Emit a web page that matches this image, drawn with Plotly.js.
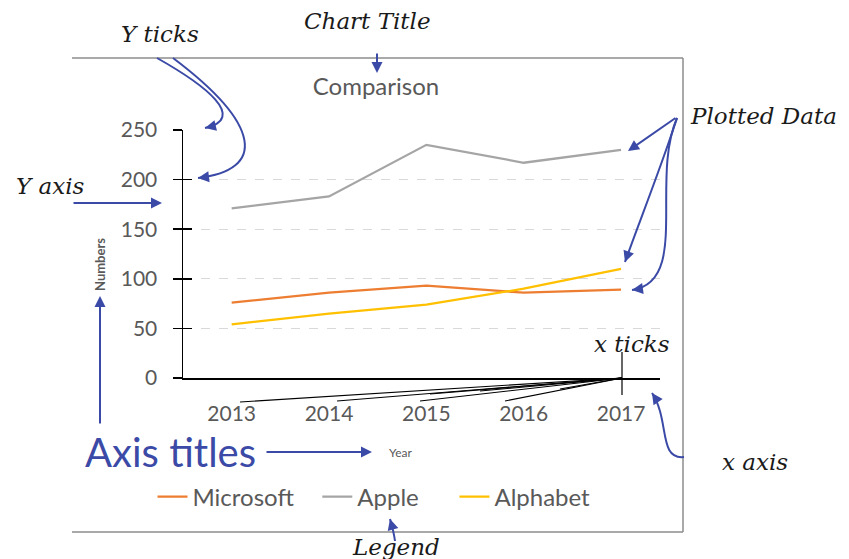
<!DOCTYPE html>
<html>
<head>
<meta charset="utf-8">
<script src="https://cdn.plot.ly/plotly-3.0.1.min.js"></script>
<style>html,body{margin:0;padding:0;background:#fff}#chart{width:849px;height:559px}</style>
</head>
<body>
<div id="chart"></div>
<script>
// ---- data ----
const years = ['2013', '2014', '2015', '2016', '2017'];
const microsoft = [76, 86, 93, 86, 89];
const apple = [171, 183, 235, 217, 230];
const alphabet = [54, 65, 74, 90, 110];
const yTicks = [0, 50, 100, 150, 200, 250];

// ---- page geometry (pixels) ----
const W = 849, H = 559;
const L = 183, R = 660, T = 130, B = 378;
const fx = X => (X - L) / (R - L);
const fy = Y => (B - Y) / (B - T);

const BLUE = '#3b4aa6';
const GREY = '#595959';
const HAND = {family: 'DejaVu Serif, Liberation Serif, serif', size: 23, color: '#1a1a1a'};

const shapes = [];
const annotations = [];

function line(x0, y0, x1, y1, color, width, dash) {
  shapes.push({type: 'line', xref: 'paper', yref: 'paper',
    x0: fx(x0), y0: fy(y0), x1: fx(x1), y1: fy(y1),
    line: {color: color, width: width, dash: dash || 'solid'}});
}
function arrow(tx, ty, hx, hy) {
  annotations.push({xref: 'paper', yref: 'paper', x: fx(hx), y: fy(hy),
    ax: tx - hx, ay: ty - hy, text: '', showarrow: true,
    arrowhead: 2, arrowsize: 1.1, arrowwidth: 2, arrowcolor: BLUE, standoff: 0, startstandoff: 0});
}
function curve(p0, c1, c2, p1) {
  const d = 'M' + fx(p0[0]) + ',' + fy(p0[1]) +
    ' C' + fx(c1[0]) + ',' + fy(c1[1]) + ' ' + fx(c2[0]) + ',' + fy(c2[1]) +
    ' ' + fx(p1[0]) + ',' + fy(p1[1]);
  shapes.push({type: 'path', xref: 'paper', yref: 'paper', path: d,
    line: {color: BLUE, width: 2}});
  const dx = c2[0] - p1[0], dy = c2[1] - p1[1];
  const n = Math.hypot(dx, dy) || 1;
  arrow(p1[0] + dx / n * 9, p1[1] + dy / n * 9, p1[0], p1[1]);
}
function label(x, y, text, font, angle) {
  annotations.push({xref: 'paper', yref: 'paper', x: fx(x), y: fy(y), text: text,
    showarrow: false, font: font, xanchor: 'center', yanchor: 'middle', textangle: angle || 0});
}

// chart frame
line(72, 58, 683, 58, '#8c8c8c', 1.5);
line(683, 58, 683, 532, '#8c8c8c', 1.5);
line(72, 532, 683, 532, '#8c8c8c', 1.5);

// x ticks marker and fan lines
line(622, 352, 622, 395, '#000', 1.2);
[[240, 402], [337, 401], [420, 401], [505, 401], [430, 394], [480, 391], [560, 389]]
  .forEach(p => line(622, 378, p[0], p[1], '#000', 1.1));

// arrows
arrow(377, 52, 377, 73);                                   // chart title
curve([157, 58], [205, 85], [248, 118], [205, 128]);       // y ticks 1
curve([173, 58], [262, 125], [266, 170], [198, 178]);      // y ticks 2
arrow(72, 203, 162, 203);                                  // y axis
arrow(677, 117, 628, 151);                                 // plotted data 1
curve([677, 118], [660, 170], [640, 220], [625, 262]);     // plotted data 2
curve([677, 118], [650, 180], [690, 282], [632, 290]);     // plotted data 3
curve([684, 457], [658, 460], [670, 420], [652, 393]);     // x axis
arrow(100, 425, 100, 296);                                 // numbers
arrow(265, 452, 372, 452);                                 // axis titles
curve([395, 541], [394, 533], [392, 526], [390, 519]);     // legend

// hand-written labels
label(160, 34, '<i>Y ticks</i>', HAND);
label(367, 21, '<i>Chart Title</i>', HAND);
label(763, 116, '<i>Plotted Data</i>', HAND);
label(50, 186, '<i>Y axis</i>', HAND);
label(632, 344, '<i>x ticks</i>', HAND);
label(755, 462, '<i>x axis</i>', HAND);
label(396, 547, '<i>Legend</i>', HAND);
label(170, 452, 'Axis titles', {family: 'Lato, sans-serif', size: 40, color: BLUE});

// axis titles
label(400, 452, 'Year', {family: 'Lato, sans-serif', size: 12, color: GREY});
label(100, 265, '<b>Numbers</b>', {family: 'Lato, sans-serif', size: 13, color: GREY}, -90);

const NB = '\u00a0';
const traces = [
  {name: 'Microsoft' + NB + NB + NB, x: years, y: microsoft, color: '#ED7D31'},
  {name: 'Apple' + NB + NB + NB + NB + NB, x: years, y: apple, color: '#A5A5A5'},
  {name: 'Alphabet', x: years, y: alphabet, color: '#FFC000'}
].map(s => ({type: 'scatter', mode: 'lines', name: s.name, x: s.x, y: s.y,
  line: {color: s.color, width: 2.25}, hoverinfo: 'skip'}));

// extra overlay axis so y ticks cross the axis line
traces.push({type: 'scatter', x: [], y: [], yaxis: 'y2', showlegend: false, hoverinfo: 'skip'});

const layout = {
  width: W, height: H,
  margin: {l: L, r: W - R, t: T, b: H - B, pad: 0},
  paper_bgcolor: '#fff', plot_bgcolor: 'rgba(0,0,0,0)',
  font: {family: 'Lato, sans-serif', color: GREY},
  title: {text: 'Comparison', x: 376 / W, y: 1 - 87 / H, xanchor: 'center', yanchor: 'middle',
    font: {family: 'Lato, sans-serif', size: 24, color: GREY}},
  showlegend: true,
  legend: {orientation: 'h', x: fx(374), y: fy(497), xanchor: 'center', yanchor: 'middle',
    font: {family: 'Lato, sans-serif', size: 24, color: GREY}, bgcolor: 'rgba(0,0,0,0)'},
  xaxis: {type: 'category', range: [-0.5, 4.4], showline: true, linecolor: '#000', linewidth: 1.5,
    ticks: '', showgrid: false, zeroline: false,
    tickfont: {family: 'Lato, sans-serif', size: 21, color: GREY}, ticklabelstandoff: 16},
  yaxis: {range: [0, 250], tickvals: yTicks, showline: true, linecolor: '#000', linewidth: 1.5,
    ticks: 'outside', ticklen: 9, tickwidth: 1.5, tickcolor: '#000',
    showgrid: true, gridcolor: '#d9d9d9', griddash: 'dash', zeroline: false,
    tickfont: {family: 'Lato, sans-serif', size: 21, color: GREY}, ticklabelstandoff: 11},
  yaxis2: {overlaying: 'y', range: [0, 250], tickvals: yTicks, ticks: 'inside', ticklen: 9,
    tickwidth: 1.5, tickcolor: '#000', showticklabels: false, showgrid: false, zeroline: false,
    showline: false},
  shapes: shapes,
  annotations: annotations
};

Plotly.newPlot('chart', traces, layout, {displayModeBar: false, staticPlot: true});
</script>
</body>
</html>
